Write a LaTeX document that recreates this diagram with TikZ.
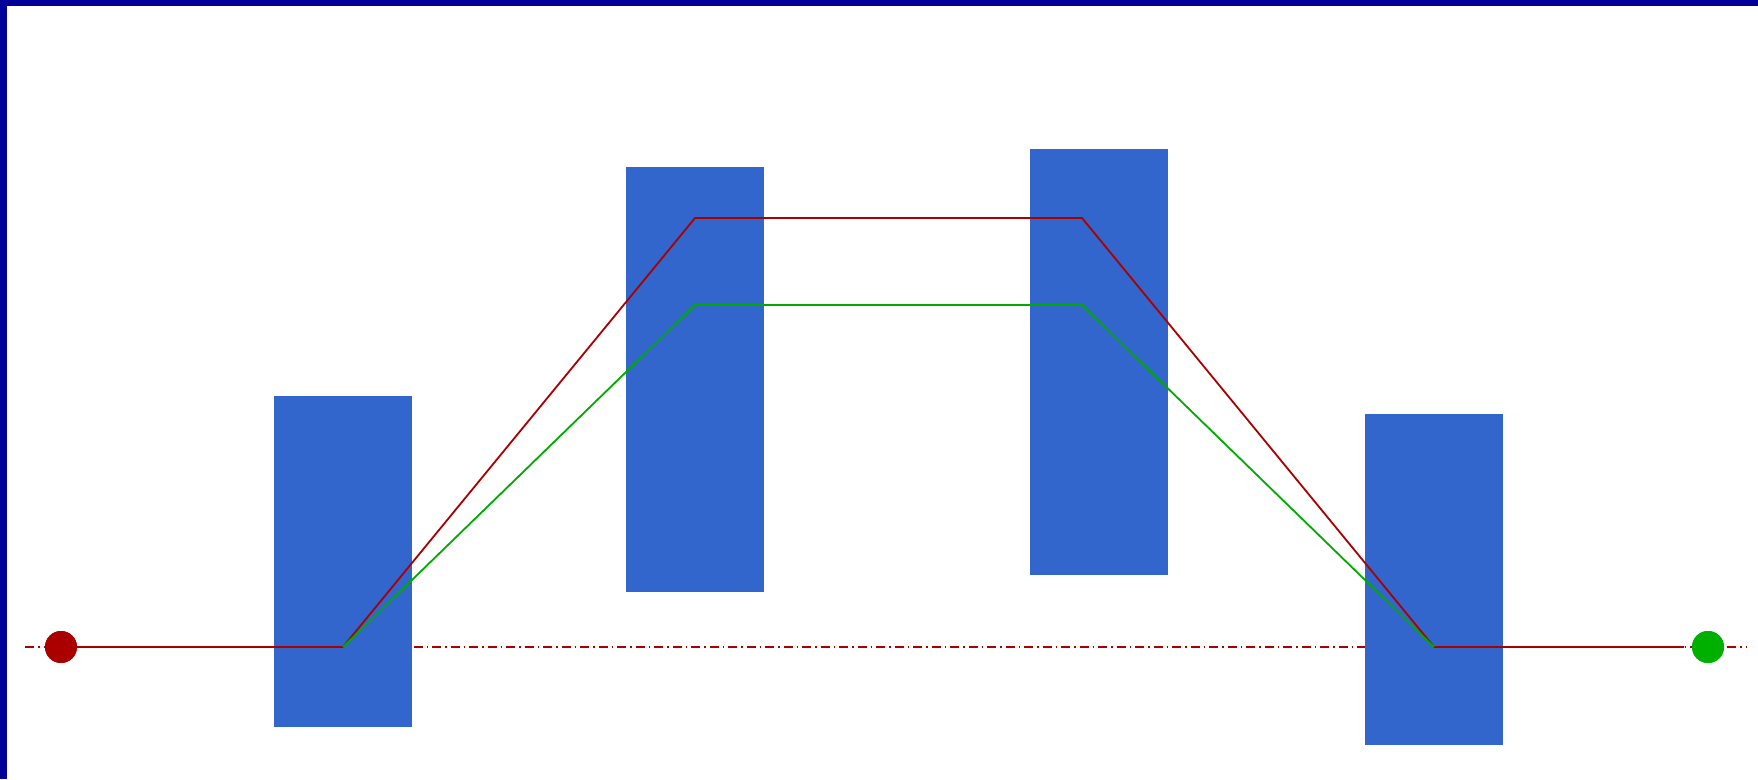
\documentclass[tikz,border=0pt]{standalone}
\begin{document}
\begin{tikzpicture}[x=1pt,y=-1pt,
  frame/.style={fill={rgb,255:red,0;green,0;blue,153}},
  obstacle/.style={fill={rgb,255:red,51;green,102;blue,204}, draw=none,
    inner sep=0pt, outer sep=0pt, anchor=north west},
  axisline/.style={draw={rgb,255:red,170;green,0;blue,0}, line width=1.5pt,
    dash pattern=on 9pt off 4pt on 1.5pt off 4pt},
  redpath/.style={draw={rgb,255:red,170;green,0;blue,0}, line width=1.8pt, line join=round},
  greenpath/.style={draw={rgb,255:red,0;green,170;blue,0}, line width=1.8pt, line join=round},
  startdot/.style={circle, fill={rgb,255:red,170;green,0;blue,0}, minimum size=32pt, inner sep=0pt},
  goaldot/.style={circle, fill={rgb,255:red,0;green,176;blue,0}, minimum size=32pt, inner sep=0pt}]
\useasboundingbox (0,0) rectangle (1758,779);

% frame edges
\fill[frame] (0,0) rectangle (1758,6);
\fill[frame] (0,0) rectangle (7,779);

% reference axis
\coordinate (axL) at (25,647);
\coordinate (axR) at (1746,647);
\draw[axisline] (axL) -- (axR);

% obstacles
\node[obstacle, minimum width=138pt, minimum height=331pt] (b1) at (274,396) {};
\node[obstacle, minimum width=138pt, minimum height=425pt] (b2) at (626,167) {};
\node[obstacle, minimum width=138pt, minimum height=426pt] (b3) at (1030,149) {};
\node[obstacle, minimum width=138pt, minimum height=331pt] (b4) at (1365,414) {};

% waypoints
\coordinate (p1) at (343,647);
\coordinate (p2) at (695,218);
\coordinate (p3) at (1082,218);
\coordinate (p4) at (1434,647);
\coordinate (q2) at (695,305);
\coordinate (q3) at (1082,305);
\coordinate (pend) at (1684,647);

\node[startdot] (start) at (61,647) {};
\node[goaldot] (goal) at (1708,647) {};

% paths
\draw[redpath] (start.center) -- (p1) -- (p2) -- (p3) -- (p4) -- (pend);
\draw[greenpath] (p1) -- (q2) -- (q3) -- (p4);

% end markers on top
\node[startdot] at (start) {};
\node[goaldot] at (goal) {};
\end{tikzpicture}
\end{document}
